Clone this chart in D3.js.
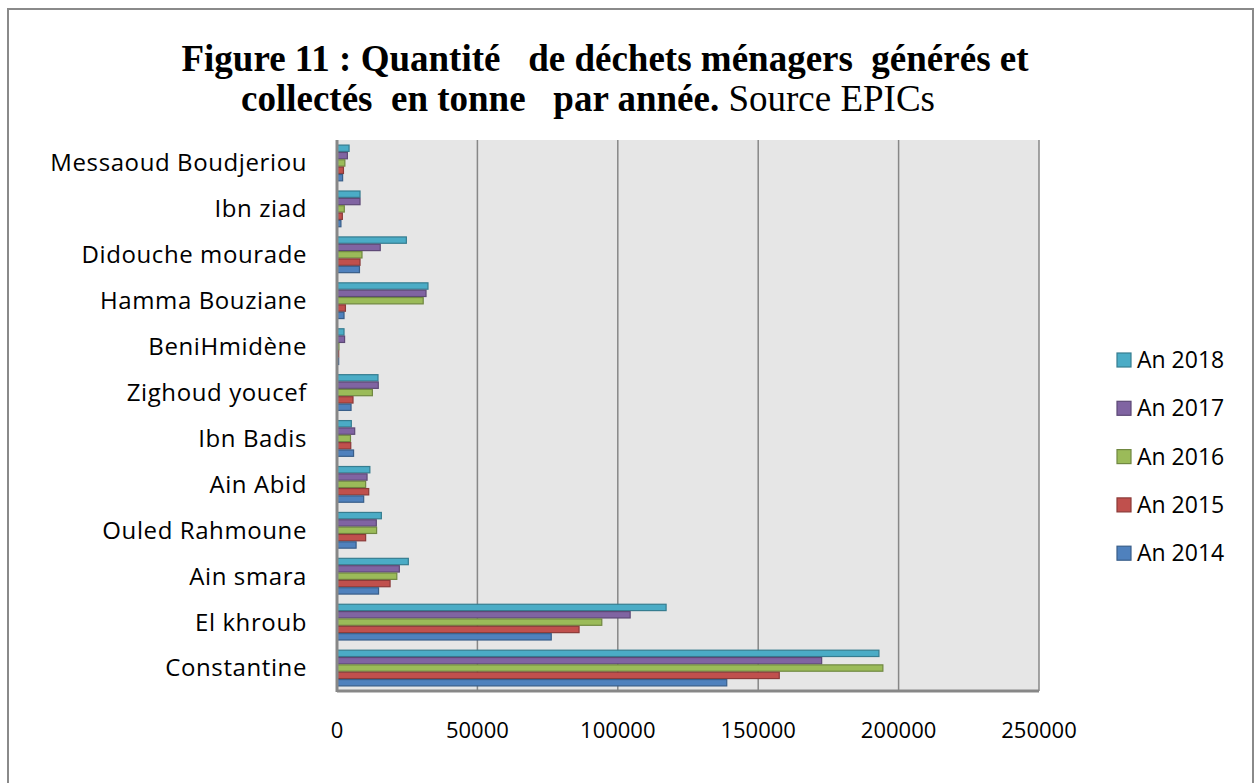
<!DOCTYPE html>
<html>
<head>
<meta charset="utf-8">
<script src="https://cdn.jsdelivr.net/npm/d3@7"></script>
<style>
  body { margin: 0; background: #fff; }
  svg { display: block; }
</style>
</head>
<body>
<div id="chart"></div>
<script>
// Communes (top to bottom, as drawn)
const communes = ["Messaoud Boudjeriou", "Ibn ziad", "Didouche mourade", "Hamma Bouziane",
  "BeniHmidène", "Zighoud youcef", "Ibn Badis", "Ain Abid", "Ouled Rahmoune",
  "Ain smara", "El khroub", "Constantine"];

// Series, in the order they appear inside each group (top to bottom)
const years = ["An 2018", "An 2017", "An 2016", "An 2015", "An 2014"];
const yearColors = ["#4bacc6", "#8064a2", "#9bbb59", "#c0504d", "#4f81bd"];

// tonnes per commune, same order as communes
const an2018 = [4300, 8200, 24700, 32400, 2500, 14600, 5100, 11700, 15800, 25400, 117200, 193000];
const an2017 = [3700, 8200, 15400, 31700, 2700, 14700, 6300, 10700, 14000, 22200, 104400, 172600];
const an2016 = [2800, 2600, 8900, 30700, 700, 12600, 4800, 10200, 14100, 21300, 94300, 194400];
const an2015 = [2300, 1900, 8200, 3000, 600, 5700, 4900, 11300, 10200, 18900, 86200, 157500];
const an2014 = [2000, 1400, 8000, 2500, 600, 5000, 5900, 9500, 6800, 14800, 76300, 138800];
const series = [an2018, an2017, an2016, an2015, an2014];

const xTicks = [0, 50000, 100000, 150000, 200000, 250000];

const W = 1256, H = 783;
const plot = { left: 337, right: 1039, top: 140, bottom: 691 };
const sans = "'Open Sans', Lato, sans-serif";

const svg = d3.select("#chart").append("svg")
    .attr("width", W)
    .attr("height", H);

// outer frame
svg.append("rect")
    .attr("x", 8).attr("y", 9)
    .attr("width", 1245).attr("height", 790)
    .attr("fill", "#fff")
    .attr("stroke", "#8a8a8a")
    .attr("stroke-width", 2);

// title
const title = svg.append("text")
    .attr("font-family", "'Liberation Serif', 'Times New Roman', serif")
    .attr("font-size", 37)
    .attr("text-anchor", "middle")
    .style("white-space", "pre");
title.append("tspan")
    .attr("x", 605).attr("y", 71)
    .attr("font-weight", "bold")
    .text("Figure 11 : Quantité   de déchets ménagers  générés et");
const l2 = title.append("tspan").attr("x", 588).attr("y", 111);
l2.append("tspan").attr("font-weight", "bold").text("collectés  en tonne   par année.");
l2.append("tspan").text(" Source EPICs");

// scales
const x = d3.scaleLinear().domain([0, 250000]).range([plot.left, plot.right]);
const y = d3.scaleBand().domain(communes).range([plot.top, plot.bottom])
    .paddingInner(0.2).paddingOuter(0.1);
const yInner = d3.scaleBand().domain(years).range([0, y.bandwidth()]);

// plot background
svg.append("rect")
    .attr("x", plot.left).attr("y", plot.top)
    .attr("width", plot.right - plot.left).attr("height", plot.bottom - plot.top)
    .attr("fill", "#e6e6e6");

// gridlines
svg.append("g")
    .selectAll("line")
    .data(xTicks.slice(1))
    .join("line")
    .attr("x1", d => x(d)).attr("x2", d => x(d))
    .attr("y1", plot.top).attr("y2", plot.bottom)
    .attr("stroke", "#878787")
    .attr("stroke-width", 1.5);

// bars
const groups = svg.append("g")
    .selectAll("g")
    .data(communes)
    .join("g")
    .attr("transform", d => `translate(0,${y(d)})`);

groups.selectAll("rect")
    .data((c, i) => years.map((yr, k) => ({ year: yr, value: series[k][i], color: yearColors[k] })))
    .join("rect")
    .attr("x", x(0))
    .attr("y", d => yInner(d.year) + 0.5)
    .attr("width", d => x(d.value) - x(0))
    .attr("height", yInner.bandwidth() - 1)
    .attr("fill", d => d.color)
    .attr("stroke", d => d3.color(d.color).darker(0.9))
    .attr("stroke-width", 1.2);

// axes lines
svg.append("line")
    .attr("x1", plot.left).attr("x2", plot.left)
    .attr("y1", plot.top).attr("y2", plot.bottom + 1)
    .attr("stroke", "#878787").attr("stroke-width", 3);
svg.append("line")
    .attr("x1", plot.left).attr("x2", plot.right)
    .attr("y1", plot.bottom).attr("y2", plot.bottom)
    .attr("stroke", "#878787").attr("stroke-width", 3);

// category labels
svg.append("g")
    .selectAll("text")
    .data(communes)
    .join("text")
    .attr("x", 307)
    .attr("y", d => y(d) + y.bandwidth() / 2)
    .attr("dy", "0.35em")
    .attr("text-anchor", "end")
    .attr("font-family", sans)
    .attr("font-size", 24)
    .attr("letter-spacing", 0.6)
    .attr("fill", "#000")
    .text(d => d);

// x tick labels
svg.append("g")
    .selectAll("text")
    .data(xTicks)
    .join("text")
    .attr("x", d => x(d))
    .attr("y", 738)
    .attr("text-anchor", "middle")
    .attr("font-family", sans)
    .attr("font-size", 22)
    .attr("fill", "#000")
    .text(d => d);

// legend
const legend = svg.append("g")
    .selectAll("g")
    .data(years)
    .join("g")
    .attr("transform", (d, i) => `translate(1117,${360 + i * 48.3})`);
legend.append("rect")
    .attr("x", 0).attr("y", -7)
    .attr("width", 14).attr("height", 14)
    .attr("fill", (d, i) => yearColors[i])
    .attr("stroke", (d, i) => d3.color(yearColors[i]).darker(0.9))
    .attr("stroke-width", 1.2);
legend.append("text")
    .attr("x", 20).attr("y", 0)
    .attr("dy", "0.35em")
    .attr("font-family", sans)
    .attr("font-size", 23)
    .attr("fill", "#000")
    .text(d => d);
</script>
</body>
</html>
